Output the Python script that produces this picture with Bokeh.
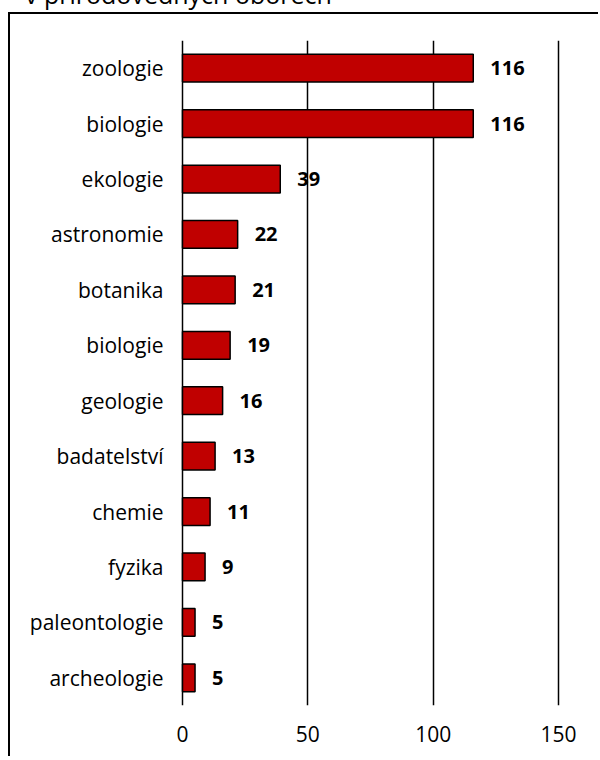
from bokeh.plotting import figure
from bokeh.models import Range1d, FixedTicker, Div, ColumnDataSource
from bokeh.layouts import column
from bokeh.embed import file_html
from bokeh.resources import INLINE
from bokeh.core.properties import value

title_text = "v přírodovědných oborech"
categories = ["zoologie", "biologie", "ekologie", "astronomie", "botanika", "biologie",
              "geologie", "badatelství", "chemie", "fyzika", "paleontologie", "archeologie"]
values = [116, 116, 39, 22, 21, 19, 16, 13, 11, 9, 5, 5]
x_ticks = [0, 50, 100, 150]

positions = list(range(len(categories)))
source = ColumnDataSource(data=dict(
    pos=positions,
    val=values,
    lbl=[str(v) for v in values],
))

FONT = "Open Sans"

W, H = 590, 744

p = figure(width=W, height=H, output_backend="svg", toolbar_location=None,
           x_range=Range1d(-0.8, 150.8), y_range=Range1d(len(categories) - 0.5, -0.5),
           min_border_left=170, min_border_right=40, min_border_top=26,
           min_border_bottom=53, margin=(7, 0, 0, 10),
           styles={"box-shadow": "-2px -2px 0 0 black"})
p.outline_line_color = None
p.background_fill_color = "white"
p.border_fill_color = "white"

p.hbar(y="pos", left=0, right="val", height=0.5, source=source,
       fill_color="#C00000", line_color="black", line_width=1.5)

p.text(x="val", y="pos", text="lbl", source=source, x_offset=17,
       text_baseline="middle", text_align="left",
       text_font=value(FONT), text_font_style="bold", text_font_size="20px",
       text_color="black")

# x axis
p.xaxis.ticker = FixedTicker(ticks=x_ticks)
p.xaxis.axis_line_color = None
p.xaxis.major_tick_line_color = None
p.xaxis.major_tick_out = 0
p.xaxis.major_tick_in = 0
p.xaxis.minor_tick_line_color = None
p.xaxis.major_label_standoff = 20
p.xaxis.major_label_text_font = FONT
p.xaxis.major_label_text_font_size = "21px"
p.xaxis.major_label_text_color = "black"

# y axis (categories)
p.yaxis.ticker = FixedTicker(ticks=positions)
p.yaxis.major_label_overrides = {i: c for i, c in enumerate(categories)}
p.yaxis.axis_line_color = None
p.yaxis.major_tick_line_color = None
p.yaxis.major_tick_out = 0
p.yaxis.major_tick_in = 0
p.yaxis.minor_tick_line_color = None
p.yaxis.major_label_standoff = 17
p.yaxis.major_label_text_font = FONT
p.yaxis.major_label_text_font_size = "21px"
p.yaxis.major_label_text_color = "black"

# grid
p.xgrid.ticker = FixedTicker(ticks=x_ticks)
p.xgrid.grid_line_color = "black"
p.xgrid.grid_line_width = 1.5
p.ygrid.grid_line_color = None

title = Div(text=title_text, width=420, height=25, margin=(-18, 0, 0, 25),
            styles={"font-family": FONT, "font-size": "25px", "line-height": "25px",
                    "color": "black", "white-space": "nowrap"})

layout = column(title, p, spacing=0)

open("out.html", "w").write(file_html(layout, INLINE))
